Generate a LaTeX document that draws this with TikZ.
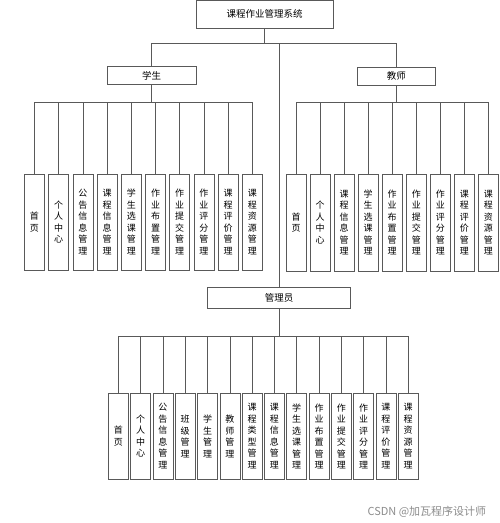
\documentclass[tikz,border=0pt]{standalone}
\usepackage{fontspec}
\setmainfont{Noto Sans CJK SC}
\begin{document}
\begin{tikzpicture}[x=1pt,y=-1pt]
\tikzstyle{every node}=[font=\fontsize{9.5}{11}\selectfont]
\tikzstyle{box}=[draw=black!65,line width=0.6pt,inner sep=0pt]
\tikzstyle{leaf}=[box,minimum width=20pt,align=center,font=\fontsize{9}{11.5}\selectfont]
\tikzstyle{link}=[draw=black!65,line width=0.6pt]
\useasboundingbox (0,0) rectangle (499,523);
% top levels
\node[box,minimum width=137pt,minimum height=28pt](sys) at (264.5,14){课程作业管理系统};
\node[box,minimum width=89pt,minimum height=18pt](stu) at (151.7,75.7){学生};
\node[box,minimum width=78pt,minimum height=18pt](tea) at (396.3,76){教师};
\node[box,minimum width=143pt,minimum height=20.7pt](adm) at (279,297.7){管理员};
\draw[link](sys.south)--++(0,15)-|(stu.north);
\draw[link](sys.south)--++(0,15)-|(tea.north);
\draw[link](sys.south)--++(0,15)-|(adm.north);
% student
\foreach \t [count=\i from 0] in {{首\\页},{个\\人\\中\\心},{公\\告\\信\\息\\管\\理},{课\\程\\信\\息\\管\\理},
{学\\生\\选\\课\\管\\理},{作\\业\\布\\置\\管\\理},{作\\业\\提\\交\\管\\理},{作\\业\\评\\分\\管\\理},
{课\\程\\评\\价\\管\\理},{课\\程\\资\\源\\管\\理}}{
\node[leaf,minimum height=96pt](s\i) at (34.5+24.2*\i,222){\t};
\draw[link](stu.south)--++(0,17.3)-|(s\i.north);
}
% teacher
\foreach \t [count=\i from 0] in {{首\\页},{个\\人\\中\\心},{课\\程\\信\\息\\管\\理},{学\\生\\选\\课\\管\\理},
{作\\业\\布\\置\\管\\理},{作\\业\\提\\交\\管\\理},{作\\业\\评\\分\\管\\理},{课\\程\\评\\价\\管\\理},
{课\\程\\资\\源\\管\\理}}{
\node[leaf,minimum height=97pt](t\i) at (296+24.05*\i,222.5){\t};
\draw[link](tea.south)--++(0,17)-|(t\i.north);
}
% admin
\foreach \t [count=\i from 0] in {{首\\页},{个\\人\\中\\心},{公\\告\\信\\息\\管\\理},{班\\级\\管\\理},
{学\\生\\管\\理},{教\\师\\管\\理},{课\\程\\类\\型\\管\\理},{课\\程\\信\\息\\管\\理},{学\\生\\选\\课\\管\\理},
{作\\业\\布\\置\\管\\理},{作\\业\\提\\交\\管\\理},{作\\业\\评\\分\\管\\理},{课\\程\\评\\价\\管\\理},
{课\\程\\资\\源\\管\\理}}{
\node[leaf,minimum height=86pt](a\i) at (118.3+22.3*\i,436.2){\t};
\draw[link](adm.south)--++(0,28)-|(a\i.north);
}
\node[text=black!45,font=\fontsize{11}{12}\selectfont,anchor=west](wm) at (364,511.7){CSDN @加瓦程序设计师};
\end{tikzpicture}
\end{document}
